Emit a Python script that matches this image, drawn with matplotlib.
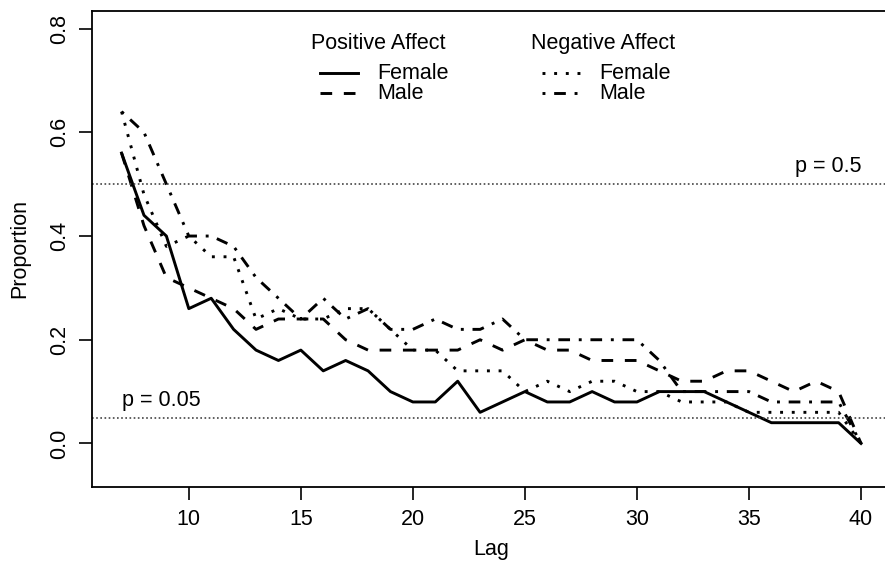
import matplotlib
matplotlib.use("Agg")
import matplotlib.pyplot as plt

plt.rcParams['font.family'] = ['Liberation Sans', 'DejaVu Sans']

lags = list(range(7, 41))

pos_female = [0.56, 0.44, 0.40, 0.26, 0.28, 0.22, 0.18, 0.16, 0.18, 0.14,
              0.16, 0.14, 0.10, 0.08, 0.08, 0.12, 0.06, 0.08, 0.10, 0.08,
              0.08, 0.10, 0.08, 0.08, 0.10, 0.10, 0.10, 0.08, 0.06, 0.04,
              0.04, 0.04, 0.04, 0.00]
pos_male = [0.56, 0.42, 0.32, 0.30, 0.28, 0.26, 0.22, 0.24, 0.24, 0.24,
            0.20, 0.18, 0.18, 0.18, 0.18, 0.18, 0.20, 0.18, 0.20, 0.18,
            0.18, 0.16, 0.16, 0.16, 0.14, 0.12, 0.12, 0.14, 0.14, 0.12,
            0.10, 0.12, 0.10, 0.00]
neg_female = [0.64, 0.48, 0.38, 0.40, 0.36, 0.36, 0.24, 0.26, 0.24, 0.24,
              0.26, 0.26, 0.22, 0.18, 0.18, 0.14, 0.14, 0.14, 0.10, 0.12,
              0.10, 0.12, 0.12, 0.10, 0.10, 0.08, 0.08, 0.08, 0.06, 0.06,
              0.06, 0.06, 0.06, 0.00]
neg_male = [0.64, 0.60, 0.50, 0.40, 0.40, 0.38, 0.32, 0.28, 0.24, 0.28,
            0.24, 0.26, 0.22, 0.22, 0.24, 0.22, 0.22, 0.24, 0.20, 0.20,
            0.20, 0.20, 0.20, 0.20, 0.16, 0.10, 0.10, 0.10, 0.10, 0.08,
            0.08, 0.08, 0.08, 0.00]

ref_levels = [0.5, 0.05]
ref_labels = ["p = 0.5", "p = 0.05"]
y_ticks = [0.0, 0.2, 0.4, 0.6, 0.8]
x_ticks = [10, 15, 20, 25, 30, 35, 40]

W, H = 885, 567
fig = plt.figure(figsize=(W / 100, H / 100), dpi=100)
left, right, top, bottom = 92, 890.6, 11, 487
ax = fig.add_axes([left / W, 1 - bottom / H, (right - left) / W, (bottom - top) / H])

lw = 2.1
styles = {
    'solid': dict(linestyle='-'),
    'dashed': dict(dashes=(4, 4)),
    'dotted': dict(dashes=(1, 3)),
    'dotdash': dict(dashes=(1, 3, 4, 3)),
}
series = [(pos_female, 'solid'), (pos_male, 'dashed'),
          (neg_female, 'dotted'), (neg_male, 'dotdash')]
for vals, st in series:
    ax.plot(lags, vals, color='black', lw=lw, solid_joinstyle='round',
            dash_capstyle='butt', **styles[st])

for lvl in ref_levels:
    ax.axhline(lvl, color='#444444', lw=1.2, dashes=(1, 1.5))

fs = 15.5
ax.text(40, 0.5 + 0.013, ref_labels[0], ha='right', va='bottom', fontsize=fs)
ax.text(7, 0.05 + 0.013, ref_labels[1], ha='left', va='bottom', fontsize=fs)

span_x = 40 - 7
ax.set_xlim(7 - 0.04 * span_x, 40 + 0.04 * span_x)
ax.set_ylim(-0.05 - 0.034, 0.8 + 0.034)
ax.set_xticks(x_ticks)
ax.set_yticks(y_ticks)
ax.set_yticklabels([f"{t:.1f}" for t in y_ticks], rotation=90, va='center')
ax.tick_params(direction='out', length=9.5, width=1.2, labelsize=fs, pad=6, color='black')
for sp in ax.spines.values():
    sp.set_linewidth(1.3)
ax.set_xlabel("Lag", fontsize=fs, labelpad=7)
ax.set_ylabel("Proportion", fontsize=fs, labelpad=14)

# two-column legend drawn in axes data space
def legend_entry(x0, y, style, label):
    ax.plot([x0, x0 + 1.7], [y, y], color='black', lw=lw, clip_on=False,
            **styles[style])
    ax.text(x0 + 2.55, y, label, ha='left', va='center', fontsize=fs)

ax.text(18.45, 0.772, "Positive Affect", ha='center', va='center', fontsize=fs)
ax.text(28.5, 0.772, "Negative Affect", ha='center', va='center', fontsize=fs)
legend_entry(15.85, 0.714, 'solid', 'Female')
legend_entry(15.85, 0.675, 'dashed', 'Male')
legend_entry(25.75, 0.714, 'dotted', 'Female')
legend_entry(25.75, 0.675, 'dotdash', 'Male')

fig.savefig("out.png", dpi=100)
